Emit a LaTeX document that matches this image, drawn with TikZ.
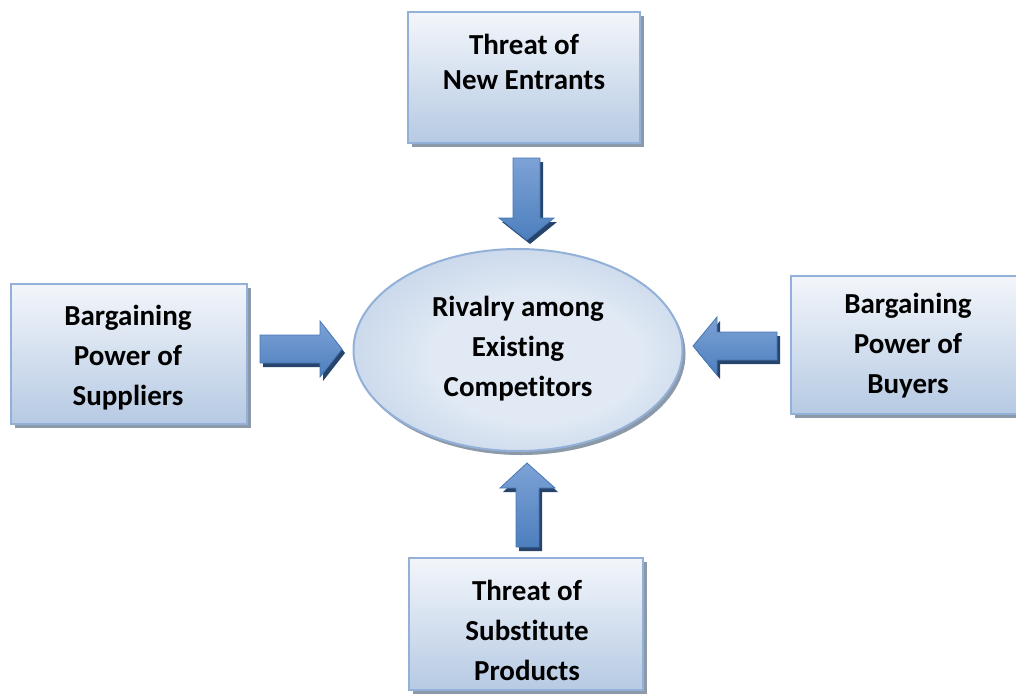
\documentclass[tikz,border=0pt]{standalone}
\usepackage{fontspec}
\setmainfont{Carlito}[Ligatures=NoCommon]
\usetikzlibrary{shapes.geometric,shadows}

\definecolor{boxtop}{HTML}{F3F6FB}
\definecolor{boxbottom}{HTML}{B6CAE3}
\definecolor{boxedge}{HTML}{93B1D8}
\definecolor{boxshadow}{HTML}{8C99A8}
\definecolor{ovaledge}{HTML}{A7BEDD}
\definecolor{ovalmid}{HTML}{E0E9F4}
\definecolor{arrowlight}{HTML}{7DA2D6}
\definecolor{arrowmid}{HTML}{4F81BD}
\definecolor{arrowlow}{HTML}{4D7FBD}
\definecolor{arrowedge}{HTML}{4677B5}
\definecolor{arrowshade}{HTML}{26446C}

% soft glow for the central oval
\pgfdeclareradialshading{ovalglow}{\pgfpoint{4bp}{-3bp}}{%
  color(0bp)=(ovalmid); color(16bp)=(ovalmid); color(40bp)=(ovaledge!80!ovalmid); color(50bp)=(ovaledge)}

% block arrow: dark offset shadow first, then the shaded body
\newcommand\blockarrow[1]{%
  \fill[arrowshade,shift={(3,4)}] #1;
  \path[arrowbody] #1;}

\begin{document}
\begin{tikzpicture}[x=1pt,y=-1pt,
  forcebox/.style={rectangle, draw=boxedge, line width=2pt, inner sep=0pt,
    top color=boxtop, bottom color=boxbottom,
    drop shadow={shadow xshift=4pt, shadow yshift=-4pt, fill=boxshadow, opacity=1}},
  rivalry/.style={ellipse, draw=boxedge, line width=2pt, inner sep=0pt,
    shading=ovalglow,
    drop shadow={shadow xshift=3pt, shadow yshift=-4pt, fill=boxshadow, opacity=1}},
  lbl/.style={align=center, inner sep=0pt, font=\bfseries\fontsize{29}{40}\selectfont},
  arrowbody/.style={draw=arrowedge, line width=0.8pt, line join=miter,
    top color=arrowlight, middle color=arrowmid, bottom color=arrowlow}]

\useasboundingbox (0,0) rectangle (1016,693);

% the five forces
\node[forcebox, minimum width=232, minimum height=130] (entrants) at (524,77.5) {};
\node[forcebox, minimum width=236, minimum height=140] (suppliers) at (128.5,353.5) {};
\node[forcebox, minimum width=236, minimum height=138] (buyers) at (909,344.5) {};
\node[forcebox, minimum width=234, minimum height=132] (substitutes) at (525.5,623.5) {};
\node[rivalry, minimum width=329, minimum height=202] (rival) at (518,350) {};

% labels
\node[lbl, font=\bfseries\fontsize{29}{35}\selectfont] (entrants-text) at (524,62) {Threat of\\New Entrants};
\node[lbl] (suppliers-text) at (128,358) {Bargaining\\Power of\\Suppliers};
\node[lbl] (buyers-text) at (908,346) {Bargaining\\Power of\\Buyers};
\node[lbl] (substitutes-text) at (527,630) {Threat of\\Substitute\\Products};
\node[lbl] (rival-text) at (518,349) {Rivalry among\\Existing\\Competitors};

% block arrows pointing at the rivalry
\blockarrow{(513,158) -- (540,158) -- (540,218) -- (554,218) -- (527,240) -- (499,218) -- (513,218) -- cycle}
\blockarrow{(260,335) -- (320,335) -- (320,321) -- (342,349) -- (320,377) -- (320,363) -- (260,363) -- cycle}
\blockarrow{(777,332) -- (717,332) -- (717,317) -- (693,346) -- (717,375) -- (717,360) -- (777,360) -- cycle}
\blockarrow{(527,463) -- (555,488) -- (539,488) -- (539,547) -- (516,547) -- (516,488) -- (500,488) -- cycle}

\end{tikzpicture}
\end{document}
